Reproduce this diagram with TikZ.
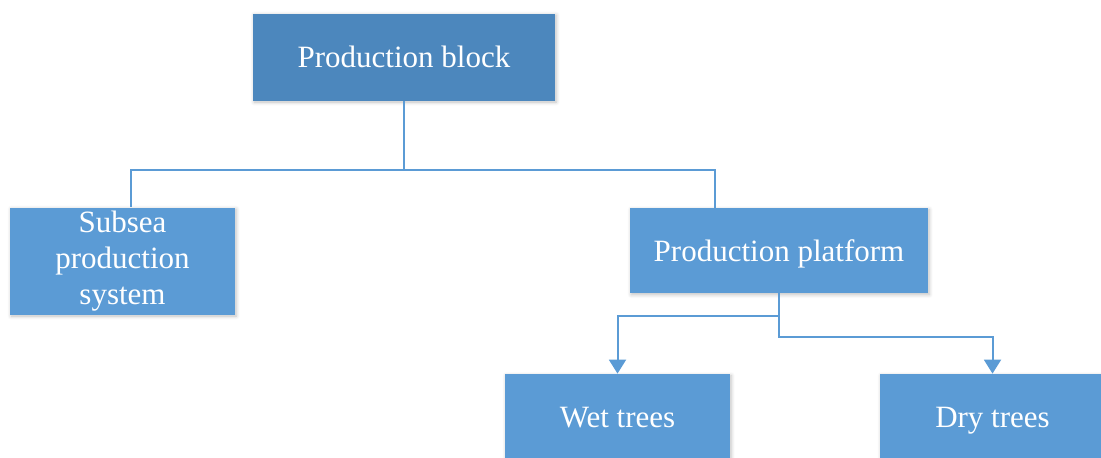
\documentclass[tikz,border=0pt]{standalone}
\usepackage{fontspec}
\setmainfont{Liberation Serif}
\usepackage{tikz}
\usetikzlibrary{arrows.meta,shadows.blur}

\definecolor{boxblue}{RGB}{91,155,213}
\definecolor{topblue}{RGB}{76,135,189}

\begin{document}
\begin{tikzpicture}[x=0.5pt, y=-0.5pt,
    box/.style={fill=boxblue, text=white, align=center, inner sep=0pt,
        font=\fontsize{15.5}{18}\selectfont,
        blur shadow={shadow xshift=0.6pt, shadow yshift=-0.8pt, shadow blur steps=6, shadow opacity=25}},
    oneline/.style={box, text height=10.5pt, text depth=0pt},
    link/.style={draw=boxblue, line width=1pt},
    tip/.style={-{Triangle[width=8.5pt, length=7pt]}}]
    \useasboundingbox (0,0) rectangle (1101,457);

    \node[oneline, fill=topblue, minimum width=151pt, minimum height=43.5pt] (Block node) at (404,57) {Production block};
    \node[box, minimum width=112.5pt, minimum height=53.5pt] (Subsea node) at (122.5,261) {Subsea\\production\\system};
    \node[oneline, minimum width=149pt, minimum height=42.5pt] (Platform node) at (779,250.5) {Production platform};
    \node[oneline, minimum width=112.5pt, minimum height=42.5pt] (Wet node) at (617.5,416.5) {Wet trees};
    \node[oneline, minimum width=112.5pt, minimum height=42.5pt] (Dry node) at (992.5,416.5) {Dry trees};

    % top level split
    \coordinate (Bus node) at (404,170);
    \draw[link] (Block node.south) -- (Bus node);
    \draw[link] (Bus node) -| ([xshift=4pt]Subsea node.north);
    \draw[link] (Bus node) -| ([xshift=-32pt]Platform node.north);

    % trees under the platform
    \draw[link, tip] (Platform node.south) -- ++(0,23) -| (Wet node.north);
    \draw[link, tip] (Platform node.south) -- ++(0,44) -| (Dry node.north);
\end{tikzpicture}
\end{document}
